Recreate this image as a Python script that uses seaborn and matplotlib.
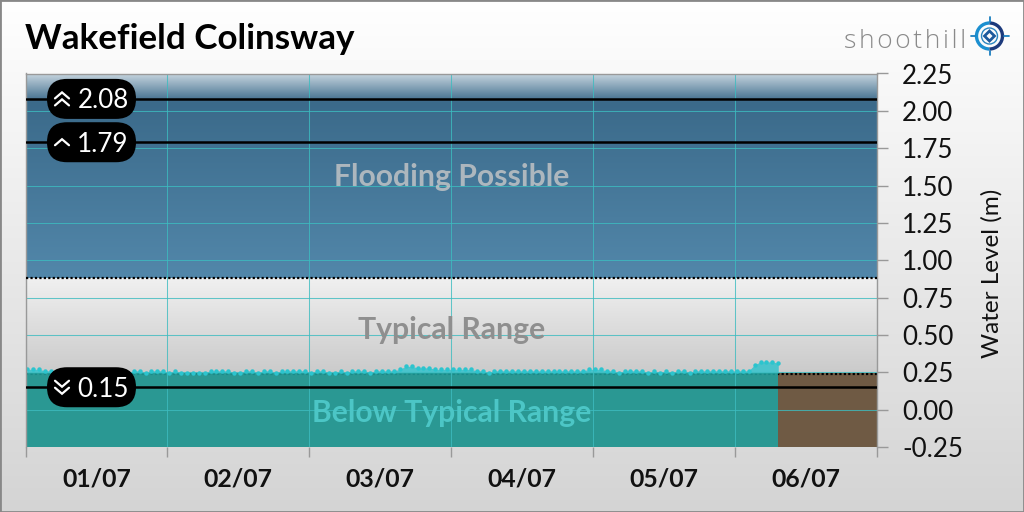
import numpy as np
import pandas as pd
import matplotlib
matplotlib.use("Agg")
import matplotlib.pyplot as plt
import seaborn as sns
from matplotlib.colors import LinearSegmentedColormap
from matplotlib.patches import Arc, Circle, FancyBboxPatch, RegularPolygon

title = "Wakefield Colinsway"
date_labels = ["01/07", "02/07", "03/07", "04/07", "05/07", "06/07"]
y_ticks = [-0.25, 0, 0.25, 0.5, 0.75, 1, 1.25, 1.5, 1.75, 2, 2.25]
y_labels = ["-0.25", "0.00", "0.25", "0.50", "0.75", "1.00", "1.25", "1.50", "1.75", "2.00", "2.25"]

# thresholds (m)
flood_level = 0.88
low_level = 0.24
high_marks = [2.08, 1.79, 0.15]
mark_text = ["2.08", "1.79", "0.15"]

# hourly readings
level = [0.27, 0.27, 0.27, 0.26, 0.26, 0.245, 0.245, 0.26, 0.26, 0.245, 0.245, 0.26, 0.26, 0.26, 0.245, 0.245,
         0.245, 0.245, 0.26, 0.26, 0.245, 0.26, 0.26, 0.26, 0.245, 0.26, 0.245, 0.245, 0.245, 0.245, 0.245, 0.26,
         0.26, 0.26, 0.26, 0.245, 0.245, 0.26, 0.26, 0.245, 0.26, 0.26, 0.245, 0.26, 0.26, 0.26, 0.26, 0.26,
         0.245, 0.26, 0.26, 0.245, 0.245, 0.26, 0.245, 0.26, 0.26, 0.26, 0.245, 0.26, 0.26, 0.26, 0.26, 0.27,
         0.29, 0.29, 0.28, 0.28, 0.28, 0.27, 0.27, 0.27, 0.27, 0.27, 0.27, 0.27, 0.26, 0.26, 0.245, 0.26,
         0.26, 0.26, 0.26, 0.26, 0.26, 0.26, 0.26, 0.26, 0.26, 0.26, 0.26, 0.26, 0.26, 0.26, 0.26, 0.27,
         0.27, 0.27, 0.26, 0.26, 0.245, 0.26, 0.26, 0.26, 0.26, 0.245, 0.26, 0.245, 0.26, 0.245, 0.26, 0.26,
         0.245, 0.26, 0.26, 0.26, 0.26, 0.26, 0.26, 0.26, 0.26, 0.26, 0.26, 0.30, 0.32, 0.32, 0.32, 0.31]
hours = np.arange(len(level)) + 0.3  # first reading is just after midnight

df = pd.DataFrame({"day": hours / 24, "level": level})

sns.set_style("ticks")
plt.rcParams["font.family"] = ["Lato", "DejaVu Sans"]

fig = plt.figure(figsize=(10.24, 5.12), dpi=100)

# page background
bg = fig.add_axes([0, 0, 1, 1], zorder=-1)
bg.imshow(np.linspace(0, 1, 256).reshape(-1, 1), aspect="auto",
          cmap=LinearSegmentedColormap.from_list("bg", ["#ffffff", "#d4d4d4"]))
bg.set_axis_off()

ax = fig.add_axes([25.5 / 1024, 1 - 447 / 512, (877 - 25.5) / 1024, (447 - 73.5) / 512])
ax.patch.set_alpha(0)
ymin, ymax = -0.25, 2.25

flood_cmap = LinearSegmentedColormap.from_list("flood", [(0, "#c8d6e0"), (0.14, "#3b6a8a"), (1, "#5287aa")])
typical_cmap = LinearSegmentedColormap.from_list("typical", ["#f0f0f0", "#cacaca"])
grad = np.linspace(0, 1, 256).reshape(-1, 1)
ax.imshow(grad, extent=(0, 6, flood_level, ymax), aspect="auto", cmap=flood_cmap, zorder=0)
ax.imshow(grad, extent=(0, 6, low_level, flood_level), aspect="auto", cmap=typical_cmap, zorder=0)
ax.axhspan(ymin, low_level + 0.005, color="#6f5a44", lw=0, zorder=0)

# dotted range limits sit under the water
ax.axhline(flood_level, color="black", lw=1.6, ls=(0, (1, 1)), zorder=3)
ax.axhline(low_level, color="black", lw=1.6, ls=(0, (1, 1)), zorder=0.5)

# water
ax.fill_between(df["day"], low_level + 0.005, df["level"], color="#4ac4cc", lw=0, zorder=0.8)
ax.fill_between(df["day"], ymin, low_level + 0.005, color="#1ea4a2", alpha=0.85, lw=0, zorder=1)
sns.lineplot(data=df, x="day", y="level", ax=ax, color="#2cc4ce", lw=0, marker="o", markersize=3.2,
             markeredgewidth=0, zorder=2, errorbar=None)

ax.set_axisbelow("line")
ax.grid(True, color="#3dbcc0", lw=0.75, alpha=0.8)

for val in high_marks:
    ax.axhline(val, color="black", lw=1.8, zorder=3)

ax.set_xlim(0, 6)
ax.set_ylim(ymin, ymax)
ax.set_xlabel("")
ax.set_ylabel("Water Level (m)", fontsize=17.5, color="#111111")
ax.yaxis.set_label_position("right")
ax.yaxis.set_label_coords(1.122, 0.465)
ax.yaxis.tick_right()
ax.set_yticks(y_ticks)
ax.set_yticklabels(y_labels, fontsize=18.7, color="#111111", ha="left")
ax.tick_params(axis="y", length=8, width=1, color="#999999", pad=10)
ax.set_xticks(range(7))
ax.set_xticklabels([])
ax.tick_params(axis="x", which="major", length=7.5, width=1, color="#999999")
ax.set_xticks(np.arange(6) + 0.5, minor=True)
ax.set_xticklabels(date_labels, minor=True, fontsize=17.8, fontweight="bold", color="#111111")
ax.tick_params(axis="x", which="minor", length=0, pad=15)
for s in ax.spines.values():
    s.set_color("#999999")
    s.set_linewidth(1)
ax.spines["bottom"].set_visible(False)

# band names
ax.text(3, 1.56, "Flooding Possible", ha="center", va="center", fontsize=21.7, fontweight="bold",
        color="#c8c8c8", alpha=0.8, zorder=4)
ax.text(3, 0.535, "Typical Range", ha="center", va="center", fontsize=21.7, fontweight="bold",
        color="#8f8f8f", zorder=4)
ax.text(3, -0.025, "Below Typical Range", ha="center", va="center", fontsize=21.7, fontweight="bold",
        color="#4cc6c6", zorder=4)

# title
fig.text(25 / 1024, 1 - 39 / 512, title, fontsize=25.2, fontweight="bold", color="black", va="center", ha="left")

# overlay in pixel coordinates: badges and logo
top = fig.add_axes([0, 0, 1, 1], zorder=10)
top.set_xlim(0, 1024)
top.set_ylim(512, 0)
top.set_axis_off()
top.patch.set_alpha(0)

chevrons = [[-3.5, 3.5], [0], [-3.5, 3.5]]
pointing = [1, 1, -1]
for val, txt, offs, way in zip(high_marks, mark_text, chevrons, pointing):
    py = 512 - ax.transData.transform((0, val))[1]
    top.add_patch(FancyBboxPatch((47, py - 20), 89, 40, boxstyle="round,pad=0,rounding_size=20",
                                 fc="black", ec="none"))
    top.text(103, py + 2, txt, ha="center", va="center", fontsize=18.7, color="white")
    for off in offs:
        top.plot([55, 62, 69], [py + off + way * 3, py + off - way * 3, py + off + way * 3],
                 color="white", lw=1.6, solid_joinstyle="miter")

top.text(905, 41.5, "s\u200ah\u200ao\u200ao\u200at\u200ah\u200ai\u200al\u200al", fontsize=19,
         family=["Open Sans", "DejaVu Sans"], fontweight="light", color="#8a8a8a", ha="center", va="center")
cx, cy = 989.5, 36
top.add_patch(Arc((cx, cy), 26, 26, theta1=90, theta2=270, color="#1b8fd0", lw=2.4))
top.add_patch(Arc((cx, cy), 26, 26, theta1=-90, theta2=90, color="#1c3a7c", lw=2.4))
top.add_patch(Circle((cx, cy), 8, fc="none", ec="#2b86c0", lw=1))
top.add_patch(RegularPolygon((cx, cy), 4, radius=5, fc="none", ec="#1c5a9c", lw=2))
for dx, dy in [(0, -1), (0, 1), (-1, 0), (1, 0)]:
    top.plot([cx + dx * 14.5, cx + dx * 19], [cy + dy * 14.5, cy + dy * 19], color="#1b7fc0", lw=1.3)

# page border
for side in [(0, 0, 0, 1), (1, 1, 0, 1), (0, 1, 0, 0), (0, 1, 1, 1)]:
    bg.plot(side[:2], side[2:], transform=bg.transAxes, color="#888888", lw=2)

fig.savefig("out.png", dpi=100)
